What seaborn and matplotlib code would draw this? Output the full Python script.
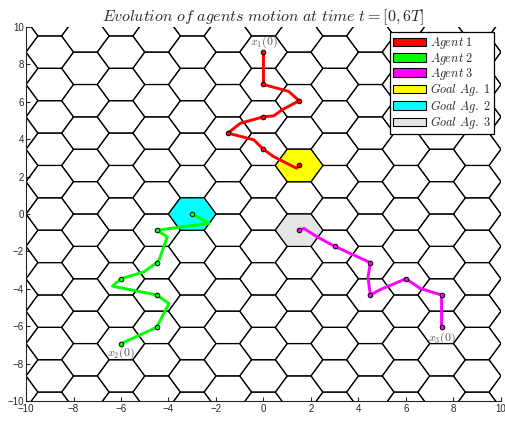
import numpy as np
import matplotlib
matplotlib.use("Agg")
import matplotlib.pyplot as plt
from matplotlib.patches import Polygon, Patch
import seaborn as sns

# ─── Data ────────────────────────────────────────────────────────────────────
# agent trajectories (x, y), markers sit on hex centres
agent1_x = [0.0, 0.0, 1.06, 1.5, 0.79, 0.43, 0.0, -0.97, -1.5, -0.41, 0.0, 0.43, 1.39, 1.5]
agent1_y = [8.66, 6.93, 6.56, 6.06, 5.58, 5.25, 5.2, 4.86, 4.33, 3.97, 3.46, 3.07, 2.45, 2.6]
agent1_mx = [0.0, 0.0, 1.5, 0.0, -1.5, 0.0, 1.5]
agent1_my = [8.66, 6.93, 6.06, 5.2, 4.33, 3.46, 2.6]

agent2_x = [-6.0, -4.5, -3.98, -4.5, -6.36, -6.0, -5.03, -4.5, -4.4, -4.05, -4.5, -2.3, -3.0]
agent2_y = [-6.93, -6.06, -4.79, -4.33, -3.86, -3.46, -3.09, -2.6, -2.47, -1.22, -0.87, -0.5, 0.0]
agent2_mx = [-6.0, -4.5, -4.5, -6.0, -4.5, -4.5, -3.0]
agent2_my = [-6.93, -6.06, -4.33, -3.46, -2.6, -0.87, 0.0]

agent3_x = [7.5, 7.5, 6.6, 6.0, 4.92, 4.5, 4.4, 4.5, 3.9, 3.0, 2.26, 1.7, 1.5]
agent3_y = [-6.06, -4.33, -3.98, -3.46, -4.04, -4.33, -3.4, -2.6, -2.25, -1.73, -1.22, -0.77, -0.87]
agent3_mx = [7.5, 7.5, 6.0, 4.5, 4.5, 3.0, 1.5]
agent3_my = [-6.06, -4.33, -3.46, -4.33, -2.6, -1.73, -0.87]

goal_x = [1.5, -3.0, 1.5]
goal_y = [2.598, 0.0, -0.866]

agent_colors = ["#ff0000", "#00ff00", "#ff00ff"]
goal_colors = ["#ffff00", "#00ffff", "#e6e6e6"]
legend_labels = [r"$Agent\ 1$", r"$Agent\ 2$", r"$Agent\ 3$",
                 r"$Goal\ Ag.\ 1$", r"$Goal\ Ag.\ 2$", r"$Goal\ Ag.\ 3$"]

start_labels = [r"$x_1(0)$", r"$x_2(0)$", r"$x_3(0)$"]
start_label_x = [0.0, -6.0, 7.5]
start_label_y = [9.2, -7.45, -6.65]

# ─── Style ───────────────────────────────────────────────────────────────────
sns.set_style("ticks")
plt.rcParams["font.family"] = ["Liberation Sans", "DejaVu Sans"]
plt.rcParams["mathtext.fontset"] = "cm"
plt.rcParams["xtick.direction"] = "in"
plt.rcParams["ytick.direction"] = "in"

fig = plt.figure(figsize=(5.06, 4.22), dpi=100)
ax = fig.add_axes([0.0514, 0.0498, 0.9386, 0.886])

# ─── Hexagonal grid (flat-top, radius 1) ─────────────────────────────────────
R = 1.0
ang = np.deg2rad(np.arange(0, 360, 60))
hx, hy = R * np.cos(ang), R * np.sin(ang)


def hexagon(cx, cy, face):
    return Polygon(np.column_stack([cx + hx, cy + hy]), closed=True,
                   facecolor=face, edgecolor="black", lw=0.85, zorder=1)


for i in range(-8, 9):
    for k in range(-8, 9):
        cx = 1.5 * R * i
        cy = np.sqrt(3) * R * (k + (i % 2) / 2)
        ax.add_patch(hexagon(cx, cy, "none"))

for gx, gy, gc in zip(goal_x, goal_y, goal_colors):
    ax.add_patch(hexagon(gx, gy, gc))

# ─── Trajectories ────────────────────────────────────────────────────────────
paths = [(agent1_x, agent1_y, agent1_mx, agent1_my),
         (agent2_x, agent2_y, agent2_mx, agent2_my),
         (agent3_x, agent3_y, agent3_mx, agent3_my)]
for (px, py, mx, my), col in zip(paths, agent_colors):
    sns.lineplot(x=px, y=py, sort=False, estimator=None, color=col,
                 lw=2.1, ax=ax, zorder=3)
    sns.scatterplot(x=mx, y=my, color=col, edgecolor="black", linewidth=0.7,
                    s=11, ax=ax, zorder=4)

for lab, lx, ly in zip(start_labels, start_label_x, start_label_y):
    ax.text(lx, ly, lab, ha="center", va="center", fontsize=8.5,
            color="#555555", zorder=5)

# ─── Axes cosmetics ──────────────────────────────────────────────────────────
ax.set_xlim(-10, 10)
ax.set_ylim(-10, 10)
ax.set_xticks(np.arange(-10, 11, 2))
ax.set_yticks(np.arange(-10, 11, 2))
ax.tick_params(labelsize=7, length=3, width=0.8, pad=1.5)
ax.tick_params(axis="x", pad=2.5)
sns.despine(ax=ax)
for sp in ["left", "bottom"]:
    ax.spines[sp].set_linewidth(0.8)
ax.set_title(r"$Evolution\ of\ agents\ motion\ at\ time\ t=[0,6T]$",
             fontsize=11.5, pad=4)

handles = [Patch(facecolor=c, edgecolor="black", lw=0.8)
           for c in agent_colors + goal_colors]
leg = ax.legend(handles, legend_labels, loc="upper right",
                bbox_to_anchor=(0.99, 0.993), fontsize=8.8, frameon=True,
                fancybox=False, framealpha=1, edgecolor="black",
                handlelength=2.7, handleheight=0.7, labelspacing=-0.05,
                handletextpad=0.3, borderpad=0.25, borderaxespad=0.2)
leg.get_frame().set_linewidth(0.9)
leg.set_zorder(10)

fig.savefig("out.png", dpi=100)
